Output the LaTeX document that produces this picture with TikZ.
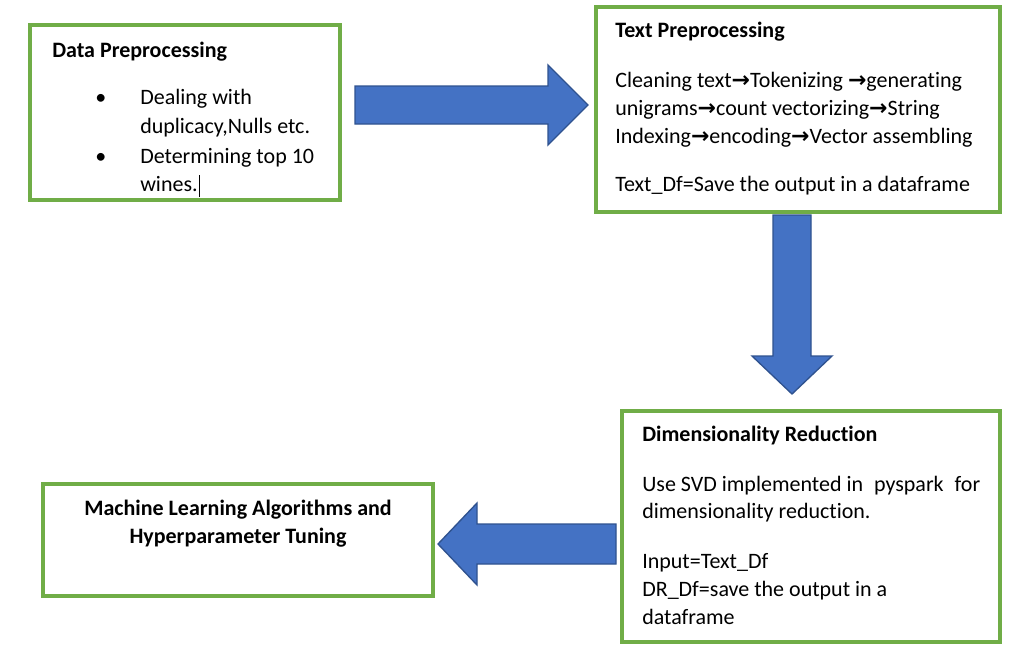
\documentclass[tikz,border=0pt]{standalone}
\usepackage{fontspec}
\setmainfont{Carlito}[Ligatures=NoCommon]
\newfontfamily\arrowfont{DejaVu Sans}
\usepackage{xcolor}
\usetikzlibrary{positioning}

\definecolor{boxgreen}{HTML}{70AD47}
\definecolor{arrowblue}{HTML}{4472C4}
\definecolor{arrowedge}{HTML}{2F528F}
\newcommand{\nxt}{{\arrowfont\bfseries\char"2192}}

\tikzset{
  box/.style={draw=boxgreen, line width=2.3pt, fill=white},
  blockarrow/.style={fill=arrowblue, draw=arrowedge, line width=1pt, line join=miter},
  txt/.style={anchor=base west, inner sep=0pt, font=\fontsize{16.5}{21}\selectfont},
  head/.style={txt, font=\fontsize{16.5}{21}\selectfont\bfseries}
}

\begin{document}
\begin{tikzpicture}[x=0.75pt,y=-0.75pt]
\useasboundingbox[fill=white] (0,0) rectangle (1020,668);
% boxes
\draw[box] (30,25) rectangle (340,200);
\draw[box] (596,7) rectangle (1000,212);
\draw[box] (622,411) rectangle (1000,642);
\draw[box] (43,484) rectangle (433,596);
% block arrows
\draw[blockarrow] (355,86) -- (548,86) -- (548,65) -- (588,105) -- (548,145) -- (548,124) -- (355,124) -- cycle;
\draw[blockarrow] (773,215) -- (811,215) -- (811,356) -- (832,356) -- (792,394) -- (752,356) -- (773,356) -- cycle;
\draw[blockarrow] (616,524) -- (477,524) -- (477,503) -- (438,544) -- (477,585) -- (477,564) -- (616,564) -- cycle;
% data preprocessing
\node[head] (dphead) at (52,57) {Data Preprocessing};
\node[txt] (dpdot1) at (95,104) {\textbullet};
\node[txt] (dpline1) at (140,104) {Dealing with};
\node[txt] (dpline2) at (140,133) {duplicacy,Nulls etc.};
\node[txt] (dpdot2) at (95,163) {\textbullet};
\node[txt] (dpline3) at (140,163) {Determining top 10};
\node[txt] (dpline4) at (140,191) {wines.};
\draw[black, line width=0.4pt] (dpline4.base east) ++(1,6) -- ++(0,-22);
% text preprocessing
\node[head] (tphead) at (615,37) {Text Preprocessing};
\node[txt] (tpline1) at (615,87) {Cleaning text\nxt Tokenizing \nxt generating};
\node[txt] (tpline2) at (615,115) {unigrams\nxt count vectorizing\nxt String};
\node[txt] (tpline3) at (615,143) {Indexing\nxt encoding\nxt Vector assembling};
\node[txt] (tpline4) at (615,191) {Text\_Df=Save the output in a dataframe};
% dimensionality reduction
\node[head] (drhead) at (642,441) {Dimensionality Reduction};
\node[txt] (drline1) at (642,491) {Use SVD implemented in\enspace pyspark\enspace for};
\node[txt] (drline2) at (642,518) {dimensionality reduction.};
\node[txt] (drline3) at (642,568) {Input=Text\_Df};
\node[txt] (drline4) at (642,596) {DR\_Df=save the output in a};
\node[txt] (drline5) at (642,624) {dataframe};
% machine learning
\node[head, anchor=base] (mlline1) at (238,515) {Machine Learning Algorithms and};
\node[head, anchor=base] (mlline2) at (238,543) {Hyperparameter Tuning};
\end{tikzpicture}
\end{document}
